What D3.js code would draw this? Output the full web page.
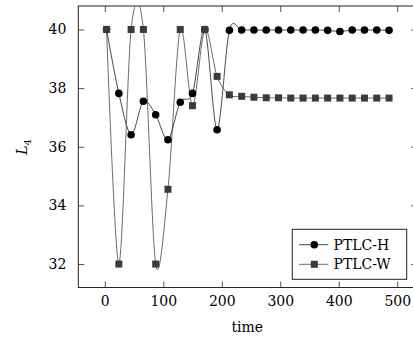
<!DOCTYPE html>
<html>
<head>
<meta charset="utf-8">
<script src="https://cdn.jsdelivr.net/npm/d3@7"></script>
<style>
  html, body { margin: 0; padding: 0; background: #fff; }
  svg { display: block; }
</style>
</head>
<body>
<svg id="chart" width="413" height="338"></svg>
<script>
// time samples and the two series
const times = [3, 24, 45, 66, 87, 108, 129, 150, 171, 192, 213, 234, 255, 276, 297, 318, 339, 360, 381, 402, 423, 444, 465, 486];
const ptlcH = [40, 37.82, 36.41, 37.55, 37.09, 36.24, 37.52, 37.82, 40, 36.58, 39.97, 39.98, 39.98, 39.98, 39.98, 39.98, 39.98, 39.98, 39.97, 39.93, 39.98, 39.98, 39.98, 39.97];
const ptlcW = [40, 32, 40, 40, 32, 34.55, 40, 37.4, 40, 38.4, 37.77, 37.72, 37.69, 37.67, 37.67, 37.66, 37.66, 37.66, 37.66, 37.66, 37.66, 37.66, 37.66, 37.66];
const xTicks = [0, 100, 200, 300, 400, 500];
const yTicks = [32, 34, 36, 38, 40];
const seriesNames = ["PTLC-H", "PTLC-W"];

const FONT = "DejaVu Serif";
const FS = 14;

const svg = d3.select("#chart");
const plot = {left: 78.3, right: 417.3, top: 6, bottom: 287.5};

const x = d3.scaleLinear().domain([-45.3, 534.3]).range([plot.left, plot.right]);
const y = d3.scaleLinear().domain([31.2, 40.8]).range([plot.bottom, plot.top]);

svg.append("defs").append("clipPath").attr("id", "clip")
  .append("rect")
  .attr("x", plot.left).attr("y", plot.top)
  .attr("width", plot.right - plot.left).attr("height", plot.bottom - plot.top);

const tickLen = 6;
const frameColor = "#222";

// axes: ticks drawn inward on all four sides, like pgfplots
const bottomAxis = svg.append("g")
  .attr("transform", `translate(0,${plot.bottom})`)
  .call(d3.axisBottom(x).tickValues(xTicks).tickSizeInner(-tickLen).tickSizeOuter(0).tickPadding(9));
const topAxis = svg.append("g")
  .attr("transform", `translate(0,${plot.top})`)
  .call(d3.axisTop(x).tickValues(xTicks).tickSizeInner(-tickLen).tickSizeOuter(0).tickFormat(""));
const leftAxis = svg.append("g")
  .attr("transform", `translate(${plot.left},0)`)
  .call(d3.axisLeft(y).tickValues(yTicks).tickSizeInner(-tickLen).tickSizeOuter(0).tickPadding(12));
const rightAxis = svg.append("g")
  .attr("transform", `translate(${plot.right},0)`)
  .call(d3.axisRight(y).tickValues(yTicks).tickSizeInner(-tickLen).tickSizeOuter(0).tickFormat(""));

[bottomAxis, topAxis, leftAxis, rightAxis].forEach(g => {
  g.attr("font-family", FONT).attr("font-size", FS);
  g.select(".domain").remove();
  g.selectAll(".tick line").attr("stroke", frameColor).attr("stroke-width", 0.8);
  g.selectAll(".tick text").attr("fill", "#000");
});

// frame
svg.append("rect")
  .attr("x", plot.left).attr("y", plot.top)
  .attr("width", plot.right - plot.left).attr("height", plot.bottom - plot.top)
  .attr("fill", "none").attr("stroke", frameColor).attr("stroke-width", 1);

// series
const lineGen = vals => d3.line()
  .x((d, i) => x(times[i]))
  .y(d => y(d))
  .curve(d3.curveCardinal.tension(0.08))(vals);

const colors = {H: {line: "#1a1a1a", fill: "#000"}, W: {line: "#444", fill: "#3b3b3b"}};

const lines = svg.append("g").attr("clip-path", "url(#clip)");
lines.append("path").attr("d", lineGen(ptlcH))
  .attr("fill", "none").attr("stroke", colors.H.line).attr("stroke-width", 0.8);
lines.append("path").attr("d", lineGen(ptlcW))
  .attr("fill", "none").attr("stroke", colors.W.line).attr("stroke-width", 0.8);

const sq = 7;
svg.append("g").selectAll("circle")
  .data(ptlcH).join("circle")
  .attr("cx", (d, i) => x(times[i]))
  .attr("cy", d => y(d))
  .attr("r", 3.8)
  .attr("fill", colors.H.fill);

svg.append("g").selectAll("rect")
  .data(ptlcW).join("rect")
  .attr("x", (d, i) => x(times[i]) - sq / 2)
  .attr("y", d => y(d) - sq / 2)
  .attr("width", sq).attr("height", sq)
  .attr("fill", colors.W.fill);

// axis labels
svg.append("text")
  .attr("x", 247.3)
  .attr("y", 332)
  .attr("text-anchor", "middle")
  .attr("font-family", FONT).attr("font-size", FS)
  .text("time");

const yl = svg.append("text")
  .attr("transform", "translate(27,147) rotate(-90)")
  .attr("text-anchor", "middle")
  .attr("font-family", FONT).attr("font-size", FS);
yl.append("tspan").attr("font-style", "italic").text("L");
yl.append("tspan").attr("dy", 4).attr("font-size", 10).text("4");

// legend
const legend = svg.append("g");
legend.append("rect")
  .attr("x", 292.3).attr("y", 229.3)
  .attr("width", 406.7 - 292.3).attr("height", 279.3 - 229.3)
  .attr("fill", "#fff").attr("stroke", frameColor).attr("stroke-width", 1);

const rowY = [244.7, 264.3];
seriesNames.forEach((name, i) => {
  const c = i === 0 ? colors.H : colors.W;
  const row = legend.append("g");
  row.append("line")
    .attr("x1", 299).attr("x2", 328.3)
    .attr("y1", rowY[i]).attr("y2", rowY[i])
    .attr("stroke", c.line).attr("stroke-width", 0.8);
  if (i === 0) {
    row.append("circle").attr("cx", 314.3).attr("cy", rowY[i]).attr("r", 3.8).attr("fill", c.fill);
  } else {
    row.append("rect").attr("x", 314.3 - sq / 2).attr("y", rowY[i] - sq / 2)
      .attr("width", sq).attr("height", sq).attr("fill", c.fill);
  }
  row.append("text")
    .attr("x", 333.5).attr("y", rowY[i] + 5)
    .attr("font-family", FONT).attr("font-size", FS)
    .text(name);
});
</script>
</body>
</html>
